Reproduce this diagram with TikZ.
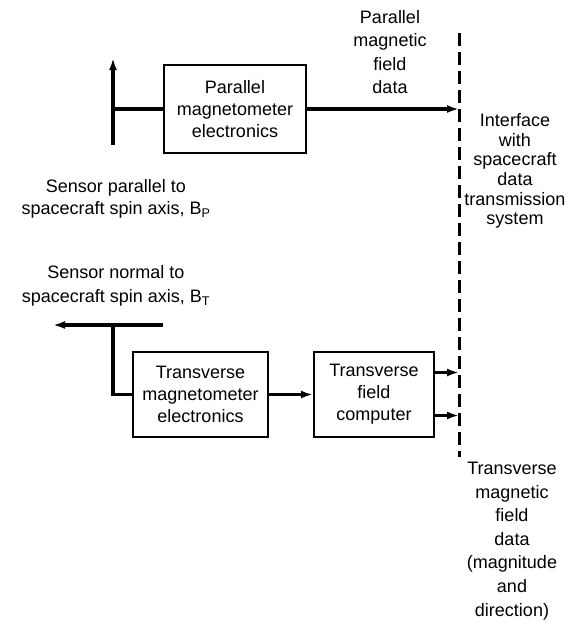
\documentclass[tikz,border=0pt]{standalone}
\usepackage{fontspec}
\setmainfont{Liberation Sans}
\usepackage{tikz}
\usetikzlibrary{arrows.meta,positioning}
\tikzset{
    every picture/.style={line cap=butt,line join=miter},
    blockbox/.style={draw=black,line width=2pt,
      minimum width=142pt,minimum height=88pt,inner sep=2pt,align=center},
    sigline/.style={draw=black,line width=3.4pt},
    sigarrow/.style={sigline,-{Latex[length=12pt,width=8pt]}},
    interfaceline/.style={draw=black,line width=3pt,dash pattern=on 13pt off 6pt},
    plainlabel/.style={align=center,inner sep=0pt,
      font=\fontsize{18}{23.6}\selectfont}
}

\begin{document}
\begin{tikzpicture}[x=1pt,y=-1pt,font=\fontsize{18}{22}\selectfont]
  \useasboundingbox (0,0) rectangle (575,625);
  % blocks
  \node[blockbox] (pbox) at (235,109){Parallel\\magnetometer\\electronics};
  \node[blockbox,minimum width=135pt,minimum height=85pt] (tbox) at (200.5,394.5){Transverse\\magnetometer\\electronics};
  \node[blockbox,minimum width=120pt,minimum height=85pt] (cbox) at (374,394.5){Transverse\\field\\computer};
  % sensor ends and interface
  \coordinate (ptop) at (113,58);
  \coordinate (pbot) at (113,145);
  \coordinate (tleft) at (53,325);
  \coordinate (tright) at (163,325);
  \coordinate (tjoin) at (113,325);
  \coordinate (itop) at (459,33);
  \coordinate (ibot) at (459,457);
  \draw[interfaceline] (itop) -- (ibot);
  \draw[sigarrow] (pbot) -- (ptop);
  \draw[sigline] (pbox.west) -- (pbox.west -| pbot);
  \draw[sigarrow] (pbox.east) -- (pbox.east -| itop);
  \draw[sigarrow] (tright) -- (tleft);
  \draw[sigline] (tjoin) |- (tbox.west);
  \draw[sigarrow] (tbox) -- (cbox);
  \draw[sigarrow] ([yshift=22pt]cbox.east) -- ([yshift=22pt]cbox.east -| itop);
  \draw[sigarrow] ([yshift=-21pt]cbox.east) -- ([yshift=-21pt]cbox.east -| itop);
  % labels
  \node[plainlabel] (pdata) at (390,52){Parallel\\magnetic\\field\\data};
  \node[plainlabel,font=\fontsize{18}{19.7}\selectfont] (iface) at (515,171){Interface\\with\\spacecraft\\data\\transmission\\system};
  \node[plainlabel] (tdata) at (512,541){Transverse\\magnetic\\field\\data\\(magnitude\\and\\direction)};
  \node[plainlabel,font=\fontsize{18}{22}\selectfont] (psens) at (116,199){Sensor parallel to\\spacecraft spin axis, B\textsubscript{P}};
  \node[plainlabel,font=\fontsize{18}{24}\selectfont] (tsens) at (116,286){Sensor normal to\\spacecraft spin axis, B\textsubscript{T}};
\end{tikzpicture}
\end{document}
